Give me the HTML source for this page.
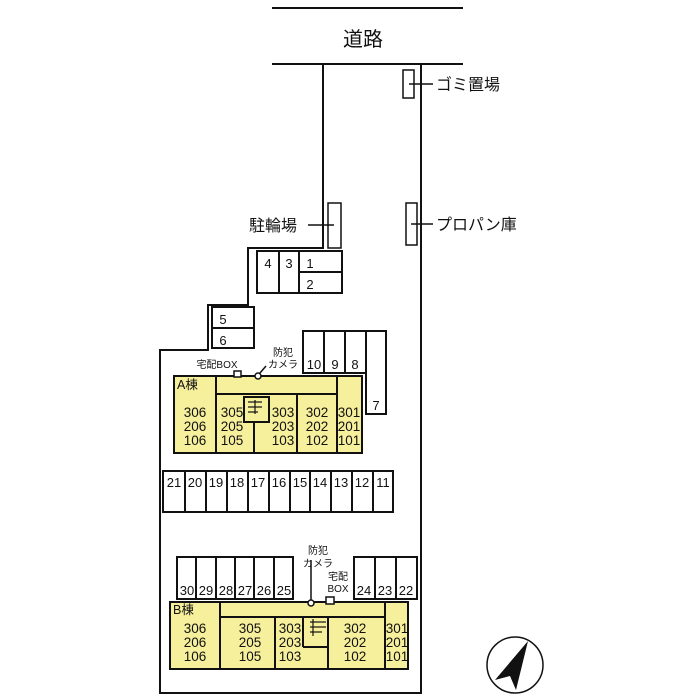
<!DOCTYPE html>
<html><head><meta charset="utf-8"><style>
html,body{margin:0;padding:0;background:#fff;}
svg{display:block;}
text{font-family:"Liberation Sans","Noto Sans CJK JP",sans-serif;fill:#111;}
</style></head><body>
<svg width="700" height="700" viewBox="0 0 700 700" xmlns="http://www.w3.org/2000/svg">
<g stroke="#111" stroke-width="2" fill="none">
<line x1="272" y1="8" x2="463" y2="8"/>
<line x1="272" y1="64" x2="463" y2="64"/>
<polyline points="323,64 323,248 248,248 248,305 208,305 208,350 160,350 160,693 421,693 421,64"/>
<rect x="403" y="70" width="11" height="28" stroke-width="1.5"/>
<line x1="409" y1="84" x2="433" y2="84" stroke-width="1.5"/>
<rect x="328" y="203" width="13" height="45" stroke-width="1.5"/>
<line x1="308" y1="225" x2="334" y2="225" stroke-width="1.5"/>
<rect x="406" y="203" width="11" height="42" stroke-width="1.5"/>
<line x1="411" y1="224" x2="433" y2="224" stroke-width="1.5"/>
<rect x="257" y="251" width="85" height="42"/>
<line x1="279" y1="251" x2="279" y2="293"/><line x1="299" y1="251" x2="299" y2="293"/>
<line x1="299" y1="272" x2="342" y2="272"/>
<rect x="212" y="307" width="42" height="41"/><line x1="212" y1="328" x2="254" y2="328"/>
<path d="M303,331 H386 V414 H366 V373 H303 Z"/>
<line x1="324" y1="331" x2="324" y2="373"/><line x1="345" y1="331" x2="345" y2="373"/><line x1="366" y1="331" x2="366" y2="373"/>
</g>
<g stroke="#111" stroke-width="2">
<rect x="174" y="376" width="188" height="77" fill="#f6ef9b"/>
<line x1="216" y1="376" x2="216" y2="453"/>
<line x1="337" y1="376" x2="337" y2="453"/>
<line x1="216" y1="394" x2="337" y2="394"/>
<line x1="254" y1="422" x2="254" y2="453"/>
<line x1="297" y1="394" x2="297" y2="453"/>
<rect x="244" y="397" width="25" height="25" fill="#f6ef9b"/>
<rect x="234" y="371" width="7" height="6" fill="#fff" stroke-width="1.5"/>
<circle cx="258" cy="376" r="3" fill="#fff" stroke-width="1.5"/>
<line x1="260" y1="373" x2="266" y2="366" stroke-width="1.5"/>
</g>
<g stroke="#111" stroke-width="1.2" fill="none">
<line x1="248" y1="402" x2="262" y2="402"/><line x1="248" y1="407" x2="262" y2="407"/><line x1="248" y1="412" x2="258" y2="412"/><line x1="255" y1="400" x2="255" y2="414"/>
</g>
<g stroke="#111" stroke-width="2" fill="none">
<rect x="163" y="471" width="230" height="41"/>
<line x1="185" y1="471" x2="185" y2="512"/><line x1="206" y1="471" x2="206" y2="512"/><line x1="227" y1="471" x2="227" y2="512"/><line x1="248" y1="471" x2="248" y2="512"/><line x1="269" y1="471" x2="269" y2="512"/><line x1="290" y1="471" x2="290" y2="512"/><line x1="310" y1="471" x2="310" y2="512"/><line x1="331" y1="471" x2="331" y2="512"/><line x1="352" y1="471" x2="352" y2="512"/><line x1="373" y1="471" x2="373" y2="512"/>
<rect x="177" y="557" width="116" height="42"/>
<line x1="196" y1="557" x2="196" y2="599"/><line x1="216" y1="557" x2="216" y2="599"/><line x1="235" y1="557" x2="235" y2="599"/><line x1="254" y1="557" x2="254" y2="599"/><line x1="274" y1="557" x2="274" y2="599"/>
<rect x="354" y="557" width="63" height="42"/>
<line x1="375" y1="557" x2="375" y2="599"/><line x1="396" y1="557" x2="396" y2="599"/>
</g>
<g stroke="#111" stroke-width="2">
<rect x="170" y="602" width="238" height="67" fill="#f6ef9b"/>
<line x1="220" y1="602" x2="220" y2="669"/>
<line x1="385" y1="602" x2="385" y2="669"/>
<line x1="220" y1="617" x2="385" y2="617"/>
<line x1="275" y1="617" x2="275" y2="669"/>
<line x1="328" y1="617" x2="328" y2="669"/>
<line x1="303" y1="617" x2="303" y2="647"/>
<line x1="303" y1="647" x2="328" y2="647"/>
<line x1="311" y1="560" x2="311" y2="600" stroke-width="1.5"/>
<circle cx="311" cy="603" r="3" fill="#fff" stroke-width="1.5"/>
<rect x="326" y="597" width="8" height="7" fill="#fff" stroke-width="1.5"/>
</g>
<g stroke="#111" stroke-width="1.2" fill="none">
<line x1="310" y1="622" x2="326" y2="622"/><line x1="310" y1="627" x2="326" y2="627"/><line x1="310" y1="632" x2="322" y2="632"/><line x1="313" y1="619" x2="313" y2="636"/>
</g>
<circle cx="515" cy="665" r="28" fill="#fff" stroke="#111" stroke-width="1.5"/>
<polygon points="528,641 495,680 510,676 516,690" fill="#111"/>
<text x="363" y="46" font-size="20" text-anchor="middle">道路</text>
<text x="436" y="90" font-size="16">ゴミ置場</text>
<text x="436" y="230" font-size="16">プロパン庫</text>
<text x="249" y="231" font-size="16">駐輪場</text>
<g font-size="13" text-anchor="middle">
<text x="268" y="268">4</text><text x="289" y="268">3</text><text x="310" y="268">1</text><text x="310" y="289">2</text>
<text x="223" y="324">5</text><text x="223" y="345">6</text>
<text x="314" y="369">10</text><text x="335" y="369">9</text><text x="355" y="369">8</text><text x="376" y="410">7</text>
<text x="174" y="487">21</text><text x="195" y="487">20</text><text x="216" y="487">19</text><text x="237" y="487">18</text><text x="258" y="487">17</text><text x="279" y="487">16</text><text x="300" y="487">15</text><text x="320" y="487">14</text><text x="341" y="487">13</text><text x="362" y="487">12</text><text x="383" y="487">11</text>
<text x="187" y="595">30</text><text x="206" y="595">29</text><text x="226" y="595">28</text><text x="245" y="595">27</text><text x="264" y="595">26</text><text x="284" y="595">25</text>
<text x="364" y="595">24</text><text x="385" y="595">23</text><text x="406" y="595">22</text>
</g>
<g font-size="10" text-anchor="middle">
<text x="217" y="368">宅配BOX</text>
<text x="283" y="356">防犯</text><text x="283" y="368">カメラ</text>
<text x="318" y="554">防犯</text><text x="318" y="567">カメラ</text>
<text x="338" y="580">宅配</text><text x="338" y="592">BOX</text>
</g>
<g font-size="12.5">
<text x="177" y="389">A棟</text><text x="173" y="614">B棟</text>
</g>
<g font-size="13.5" text-anchor="middle">
<text x="195" y="417">306</text><text x="195" y="431">206</text><text x="195" y="445">106</text>
<text x="232" y="417">305</text><text x="232" y="431">205</text><text x="232" y="445">105</text>
<text x="283" y="417">303</text><text x="283" y="431">203</text><text x="283" y="445">103</text>
<text x="317" y="417">302</text><text x="317" y="431">202</text><text x="317" y="445">102</text>
<text x="349" y="417">301</text><text x="349" y="431">201</text><text x="349" y="445">101</text>
<text x="195" y="633">306</text><text x="195" y="647">206</text><text x="195" y="661">106</text>
<text x="250" y="633">305</text><text x="250" y="647">205</text><text x="250" y="661">105</text>
<text x="290" y="633">303</text><text x="290" y="647">203</text><text x="290" y="661">103</text>
<text x="355" y="633">302</text><text x="355" y="647">202</text><text x="355" y="661">102</text>
<text x="397" y="633">301</text><text x="397" y="647">201</text><text x="397" y="661">101</text>
</g>
</svg>
</body></html>
